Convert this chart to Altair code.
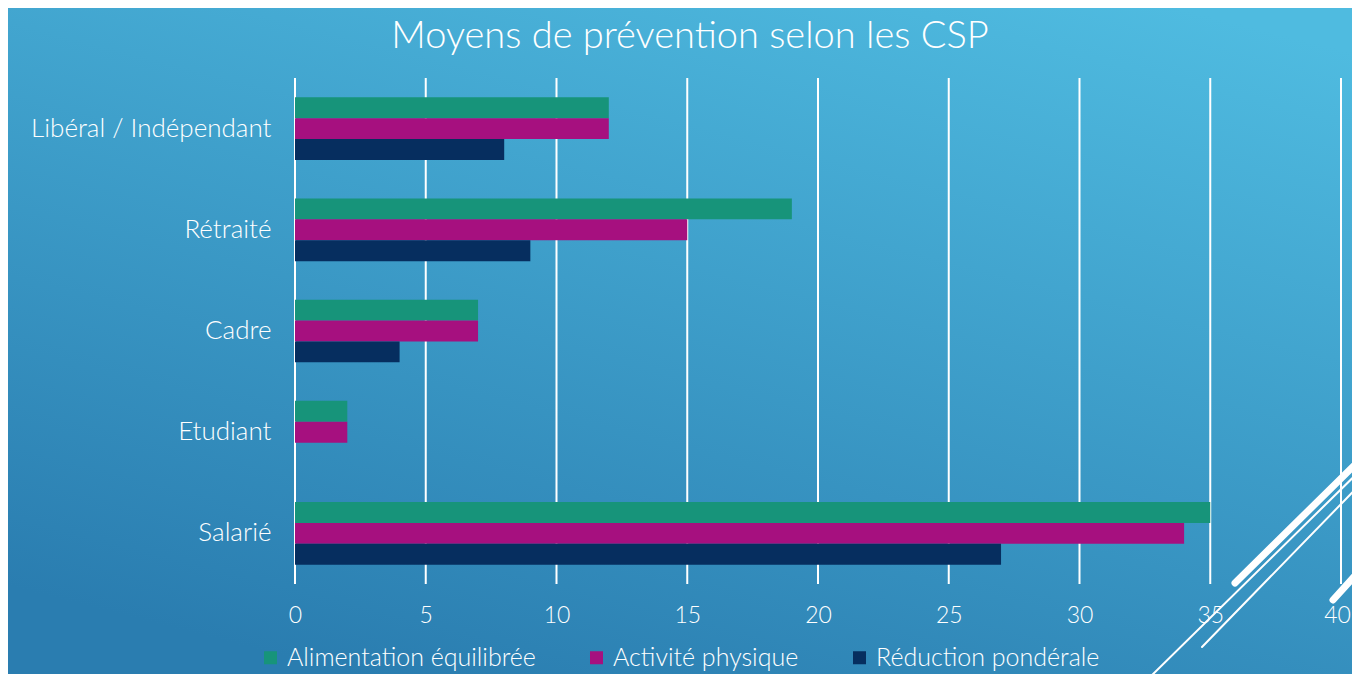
import altair as alt
import pandas as pd

categories = ["Libéral / Indépendant", "Rétraité", "Cadre", "Etudiant", "Salarié"]
series = ["Alimentation équilibrée", "Activité physique", "Réduction pondérale"]
alimentation = [12, 19, 7, 2, 35]
activite = [12, 15, 7, 2, 34]
reduction = [8, 9, 4, 0, 27]
x_ticks = [0, 5, 10, 15, 20, 25, 30, 35, 40]
colors = ["#17947A", "#A6107F", "#062E5F"]
title_text = "Moyens de prévention selon les CSP"

rows = []
for i, c in enumerate(categories):
    for s, vals in zip(series, [alimentation, activite, reduction]):
        rows.append({"csp": c, "moyen": s, "valeur": vals[i]})
df = pd.DataFrame(rows)
grid_df = pd.DataFrame({"t": x_ticks})

W, H = 1046, 506
FONT = "Lato"
LW = 300
xscale = alt.Scale(domain=[0, 40], nice=False, zero=True)
xaxis = alt.Axis(values=x_ticks, grid=False, domain=False, ticks=False, labelFontSize=23,
                 labelColor="white", labelPadding=20, title=None, zindex=1, labelFont=FONT,
                 labelFontWeight=LW, labelFlush=False,
                 labelOffset={"condition": {"test": "datum.value === 40", "value": -4}, "value": 0})

one = alt.Data(values=[{}])

bg = alt.Chart(one).mark_rect(
    fill=alt.LinearGradient(
        gradient="linear",
        stops=[alt.GradientStop(color="#4fbbe0", offset=0),
               alt.GradientStop(color="#2a7db0", offset=1)],
        x1=0.8, y1=0, x2=0.3, y2=1,
    )
).encode(x=alt.value(-300), x2=alt.value(1080), y=alt.value(-90), y2=alt.value(610))

grid = alt.Chart(grid_df).mark_rule(color="white", strokeWidth=2).encode(
    x=alt.X("t:Q", scale=xscale, axis=xaxis),
    y=alt.value(0),
    y2=alt.value(H),
)

bars = alt.Chart(df).mark_bar().encode(
    x=alt.X("valeur:Q", scale=xscale, axis=xaxis),
    y=alt.Y("csp:N", sort=categories,
            scale=alt.Scale(paddingInner=0.38, paddingOuter=0.19),
            axis=alt.Axis(title=None, domain=False, ticks=False, labelFontSize=26,
                          labelColor="white", labelPadding=24, zindex=1, labelFont=FONT,
                          labelFontWeight=LW, labelLimit=0)),
    yOffset=alt.YOffset("moyen:N", sort=series, scale=alt.Scale(paddingInner=0, paddingOuter=0)),
    color=alt.Color("moyen:N", sort=series,
                    scale=alt.Scale(domain=series, range=colors),
                    legend=alt.Legend(title=None, orient="none", legendX=-37, legendY=567,
                                      direction="horizontal", columns=3, symbolType="square",
                                      symbolSize=169, symbolStrokeWidth=0, labelFontSize=25,
                                      labelColor="white", labelFont=FONT, labelFontWeight=LW,
                                      labelOffset=4, labelLimit=0,
                                      columnPadding=48, zindex=1)),
)

def line(x1, y1, x2, y2, w):
    return alt.Chart(one).mark_rule(color="white", strokeWidth=w, strokeCap="round").encode(
        x=alt.value(x1), y=alt.value(y1), x2=alt.value(x2), y2=alt.value(y2))

decor = [
    line(940, 505, 1085, 362, 7),
    line(852, 602, 1085, 373, 2),
    line(907, 569, 1085, 386, 2),
    line(1038, 522, 1075, 481, 7),
]

title = alt.Chart(one).mark_text(
    text=title_text, fontSize=38, font=FONT, color="white", fontWeight=300,
    align="center", baseline="alphabetic"
).encode(x=alt.value(395), y=alt.value(-30))

chart = alt.layer(bg, grid, bars, *decor, title).properties(
    width=W, height=H,
    autosize=alt.AutoSizeParams(type="none"),
    padding={"left": 287, "top": 70, "right": 11, "bottom": 90},
    background="#3595c4",
).configure_view(stroke=None)

chart.save("out.html", embed_options={"renderer": "svg", "actions": False})
